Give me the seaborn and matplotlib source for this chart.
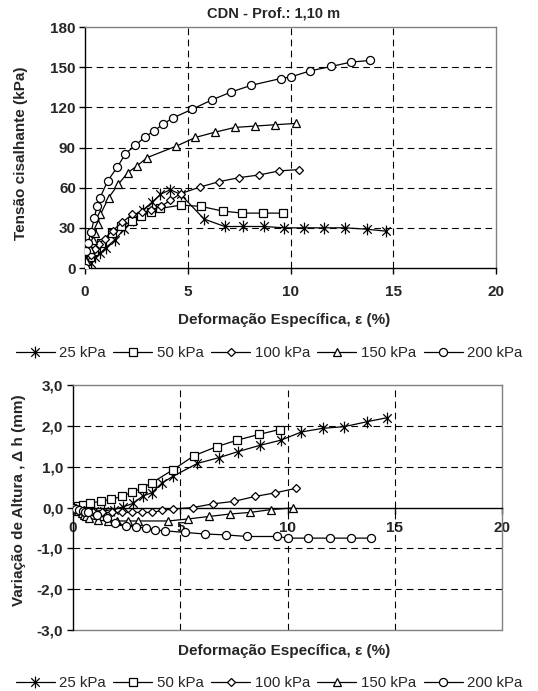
import matplotlib
matplotlib.use('Agg')
import matplotlib.pyplot as plt
import seaborn as sns
from matplotlib.path import Path
from matplotlib.lines import Line2D

sns.set_style('white')
plt.rcParams['font.family'] = ['Liberation Sans', 'DejaVu Sans']

# ---- dados ----
series = ['25 kPa', '50 kPa', '100 kPa', '150 kPa', '200 kPa']

x25 = [0, 0.15, 0.3, 0.5, 0.75, 1.0, 1.45, 1.9, 2.35, 2.8, 3.25, 3.67, 4.15, 4.65,
       5.8, 6.8, 7.7, 8.7, 9.7, 10.65, 11.65, 12.65, 13.7, 14.65]
t25 = [0, 2, 4, 8, 11, 15, 21, 29, 36, 43, 49, 55, 58.5, 55,
       36.5, 31, 31, 31, 30, 30, 30, 30, 29, 27.5]
h25 = [0, -0.01, -0.02, -0.04, -0.06, -0.08, -0.08, -0.05, 0.02, 0.1, 0.28, 0.36, 0.6, 0.76,
       1.08, 1.22, 1.37, 1.52, 1.65, 1.85, 1.94, 1.98, 2.1, 2.2]

x50 = [0, 0.1, 0.25, 0.45, 0.8, 1.3, 1.77, 2.27, 2.73, 3.2, 3.66, 4.68, 5.65, 6.7, 7.66, 8.67, 9.63]
t50 = [0, 3, 8, 13, 19, 26, 31, 35, 39, 42, 44.5, 47, 46, 42.5, 41, 41, 41]
h50 = [0, 0.02, 0.04, 0.07, 0.11, 0.15, 0.2, 0.27, 0.37, 0.47, 0.6, 0.93, 1.27, 1.49, 1.65, 1.79, 1.91]

x100 = [0, 0.1, 0.3, 0.5, 0.7, 0.95, 1.35, 1.8, 2.3, 2.75, 3.2, 3.7, 4.15, 4.65,
        5.6, 6.53, 7.5, 8.48, 9.44, 10.4]
t100 = [0, 4, 10, 14, 18, 22, 28, 34, 40, 41.5, 43, 46, 50.5, 55.5,
        60.5, 64.5, 67.5, 69.5, 72.5, 73.5]
h100 = [0, -0.02, -0.04, -0.06, -0.08, -0.1, -0.12, -0.12, -0.12, -0.12, -0.12, -0.12, -0.07, -0.04,
        0.0, 0.09, 0.15, 0.27, 0.36, 0.47]

x150 = [0, 0.05, 0.25, 0.4, 0.5, 0.62, 0.75, 1.15, 1.62, 2.07, 2.55, 3.03, 4.44,
        5.37, 6.34, 7.3, 8.27, 9.25, 10.27]
t150 = [0, 5, 14, 21, 26, 33, 40, 52.5, 62.5, 71, 76.5, 82.5, 91,
        97.5, 101.5, 105, 106, 107, 108]
h150 = [0, -0.02, -0.08, -0.14, -0.18, -0.22, -0.26, -0.31, -0.33, -0.33, -0.33, -0.33, -0.33,
        -0.28, -0.22, -0.16, -0.12, -0.05, -0.01]

x200 = [0, 0.05, 0.15, 0.3, 0.45, 0.58, 0.72, 1.1, 1.58, 1.97, 2.45, 2.92, 3.38, 3.8, 4.27,
        5.2, 6.17, 7.12, 8.1, 9.52, 10.03, 10.97, 11.98, 12.94, 13.87]
t200 = [0, 13, 19, 27, 37, 46, 52, 65, 75.5, 85.5, 91.5, 98, 102.5, 107.5, 112,
        118.5, 125.5, 131.5, 136.5, 141.5, 142.8, 147.3, 150.5, 153.8, 155]
h200 = [0, -0.02, -0.04, -0.06, -0.08, -0.1, -0.12, -0.18, -0.26, -0.37, -0.45, -0.48, -0.5, -0.55, -0.57,
        -0.61, -0.65, -0.67, -0.71, -0.71, -0.75, -0.75, -0.75, -0.75, -0.75]

xs = [x25, x50, x100, x150, x200]
tens = [t25, t50, t100, t150, t200]
alts = [h25, h50, h100, h150, h200]

xticks = [0, 5, 10, 15, 20]
yticks1 = [0, 30, 60, 90, 120, 150, 180]
yticks2 = [-3, -2, -1, 0, 1, 2, 3]
ylabels2 = ['-3,0', '-2,0', '-1,0', '0,0', '1,0', '2,0', '3,0']

# marcador asterisco estilo excel
star = Path([(0, -1), (0, 1), (-0.72, -0.72), (0.72, 0.72), (-0.72, 0.72), (0.72, -0.72)],
            [Path.MOVETO, Path.LINETO] * 3)
marks = [star, 's', 'D', '^', 'o']
msizes = [8.5, 5.3, 4.5, 6.3, 5.8]

fig = plt.figure(figsize=(5.38, 6.91), dpi=100)
ax1 = fig.add_axes([85 / 538, 1 - 268 / 691, 411 / 538, 241 / 691])
ax2 = fig.add_axes([73 / 538, 1 - 630 / 691, 429 / 538, 245 / 691])

grid_kw = dict(color='black', lw=0.8, ls=(0, (6, 4)), zorder=1)
for ax, ys in [(ax1, tens), (ax2, alts)]:
    for v in [5, 10, 15]:
        ax.axvline(v, **grid_kw)
    for i in range(5):
        sns.lineplot(x=xs[i], y=ys[i], ax=ax, color='black', lw=0.9, sort=False,
                     estimator=None, marker=marks[i], markersize=msizes[i],
                     markerfacecolor='white', markeredgecolor='black',
                     markeredgewidth=0.9, zorder=3)
    ax.set_xlim(0, 20)
    ax.set_xlabel('')
    ax.set_ylabel('')
    for s in ['top', 'right']:
        ax.spines[s].set_color('#808080')
        ax.spines[s].set_linewidth(1)
    for s in ['left', 'bottom']:
        ax.spines[s].set_color('black')
        ax.spines[s].set_linewidth(1)
    ax.tick_params(axis='both', direction='out', length=4, width=1, color='black',
                   left=True, bottom=True)

# grafico de cima
for v in [30, 60, 90, 120, 150]:
    ax1.axhline(v, **grid_kw)
ax1.set_ylim(0, 180)
ax1.set_xticks(xticks, labels=[str(v) for v in xticks], fontsize=11, fontweight='bold')
ax1.set_yticks(yticks1, labels=[str(v) for v in yticks1], fontsize=11, fontweight='bold')
ax1.tick_params(axis='x', pad=8)
ax1.tick_params(axis='y', pad=2.5)

# grafico de baixo
for v in [-2, -1, 1, 2]:
    ax2.axhline(v, **grid_kw)
ax2.set_ylim(-3, 3)
ax2.spines['bottom'].set_position(('data', 0))
ax2.axhline(-3, color='#808080', lw=1, clip_on=False)
ax2.set_xticks(xticks, labels=[str(v) for v in xticks], fontsize=11, fontweight='bold')
ax2.set_yticks(yticks2, labels=ylabels2, fontsize=11, fontweight='bold')
ax2.tick_params(axis='x', pad=6)
ax2.tick_params(axis='y', pad=3)

# textos
fig.text(274 / 538, 1 - 14 / 691, 'CDN - Prof.: 1,10 m', ha='center', va='center',
         fontsize=10.5, fontweight='bold')
fig.text(21 / 538, 1 - 153 / 691, 'Tensão cisalhante (kPa)', rotation=90, ha='center',
         va='center', fontsize=11, fontweight='bold')
fig.text(19 / 538, 1 - 500 / 691, 'Variação de Altura , Δ h (mm)', rotation=90, ha='center',
         va='center', fontsize=11, fontweight='bold')
fig.text(284 / 538, 1 - 320 / 691, 'Deformação Específica, ε (%)', ha='center', va='center',
         fontsize=11, fontweight='bold')
fig.text(284 / 538, 1 - 651 / 691, 'Deformação Específica, ε (%)', ha='center', va='center',
         fontsize=11, fontweight='bold')

handles = [Line2D([], [], color='black', lw=0.9, marker=marks[i], markersize=msizes[i],
                  markerfacecolor='white', markeredgecolor='black', markeredgewidth=0.9)
           for i in range(5)]
for yc in [353, 683]:
    fig.legend(handles, series, loc='center', bbox_to_anchor=(269 / 538, 1 - yc / 691),
               ncol=5, frameon=False, fontsize=10.8, handlelength=2.6, handletextpad=0.3,
               columnspacing=0.5, borderaxespad=0, borderpad=0)

fig.savefig('out.png', dpi=100)
